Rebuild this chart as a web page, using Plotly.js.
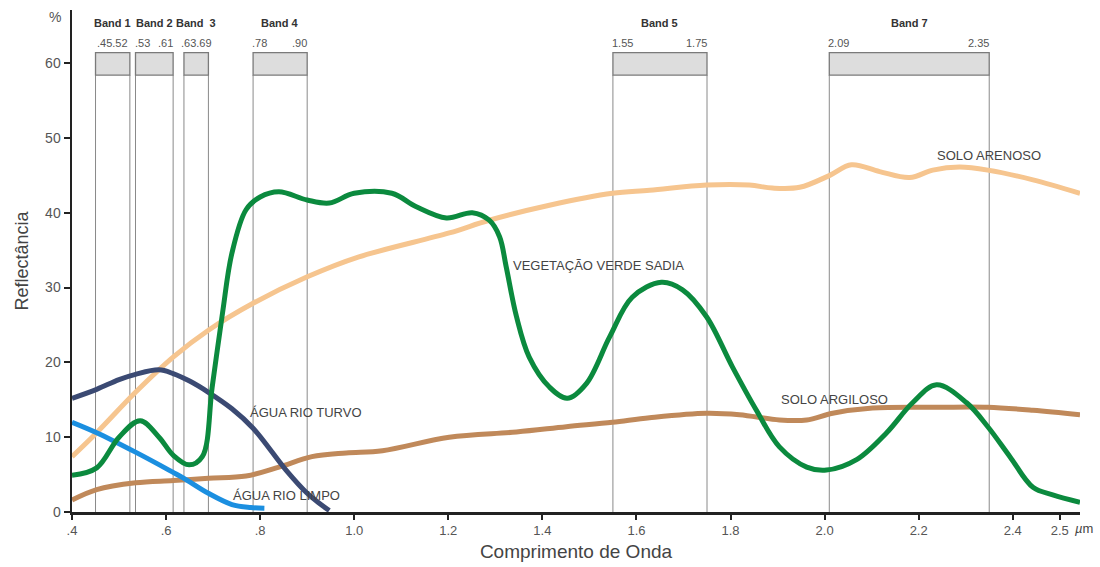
<!DOCTYPE html>
<html>
<head>
<meta charset="utf-8">
<script src="https://cdn.plot.ly/plotly-3.0.1.min.js"></script>
<style>html,body{margin:0;padding:0;background:#fff;}#chart{width:1100px;height:567px;}</style>
</head>
<body>
<div id="chart"></div>
<script>
// ---- Series data (wavelength µm, reflectance %) ----
const turvoX = [0.40, 0.4525, 0.50, 0.535, 0.585, 0.615, 0.65, 0.69, 0.74, 0.785, 0.855, 0.90, 0.925, 0.947];
const turvoY = [15.2, 16.4, 17.7, 18.4, 19.0, 18.5, 17.5, 16.0, 13.8, 11.2, 5.6, 2.5, 1.2, 0.2];

const limpoX = [0.40, 0.4525, 0.535, 0.615, 0.638, 0.69, 0.74, 0.78, 0.809];
const limpoY = [12.0, 10.6, 8.0, 5.3, 4.5, 2.5, 1.0, 0.6, 0.5];

const vegX = [0.40, 0.4525, 0.50, 0.545, 0.585, 0.615, 0.649, 0.677, 0.698, 0.72, 0.74, 0.77, 0.80, 0.84, 0.90, 0.947, 1.00, 1.08, 1.132, 1.196, 1.251, 1.287, 1.309, 1.323, 1.345, 1.372, 1.415, 1.453, 1.494, 1.543, 1.591, 1.653, 1.698, 1.749, 1.804, 1.855, 1.904, 1.962, 2.004, 2.068, 2.132, 2.187, 2.238, 2.302, 2.347, 2.394, 2.443, 2.485, 2.543];
const vegY = [4.9, 5.9, 10.0, 12.2, 10.0, 7.6, 6.3, 7.4, 16.7, 26.6, 34.6, 40.4, 42.1, 42.8, 41.7, 41.3, 42.6, 42.6, 40.8, 39.3, 40.0, 39.0, 36.8, 32.8, 26.1, 20.7, 16.7, 15.2, 17.2, 23.4, 28.7, 30.7, 29.7, 26.1, 19.4, 13.6, 8.7, 6.0, 5.6, 7.0, 10.6, 14.6, 17.0, 14.6, 11.4, 7.4, 3.3, 2.3, 1.3];

const arenosoX = [0.40, 0.4525, 0.535, 0.615, 0.69, 0.785, 0.899, 1.01, 1.202, 1.287, 1.415, 1.549, 1.628, 1.749, 1.84, 1.889, 1.947, 2.011, 2.057, 2.117, 2.181, 2.23, 2.287, 2.347, 2.443, 2.543];
const arenosoY = [7.4, 10.6, 16.0, 20.7, 24.3, 27.9, 31.4, 34.1, 37.3, 39.0, 41.0, 42.6, 43.0, 43.7, 43.7, 43.3, 43.4, 45.0, 46.4, 45.5, 44.7, 45.7, 46.1, 45.7, 44.4, 42.6];

const argilosoX = [0.40, 0.4525, 0.535, 0.615, 0.69, 0.77, 0.84, 0.91, 0.983, 1.06, 1.202, 1.345, 1.451, 1.549, 1.628, 1.749, 1.819, 1.904, 1.962, 2.017, 2.102, 2.245, 2.347, 2.443, 2.543];
const argilosoY = [1.6, 3.0, 3.9, 4.2, 4.5, 4.8, 6.0, 7.4, 7.9, 8.2, 10.0, 10.7, 11.4, 12.0, 12.6, 13.2, 13.0, 12.3, 12.3, 13.2, 13.9, 14.0, 14.0, 13.6, 13.0];

const seriesNames = ["SOLO ARENOSO", "SOLO ARGILOSO", "ÁGUA RIO TURVO", "ÁGUA RIO LIMPO", "VEGETAÇÃO VERDE SADIA"];

// ---- Bands (drawn edges in µm) ----
const bandNames = ["Band 1", "Band 2", "Band  3", "Band 4", "Band 5", "Band 7"];
const bandStart = [0.45, 0.535, 0.638, 0.785, 1.55, 2.01];
const bandEnd   = [0.523, 0.615, 0.69, 0.90, 1.75, 2.35];
const bandLeftText  = [".45.52", ".53", ".63.69", ".78", "1.55", "2.09"];
const bandRightText = ["", ".61", "", ".90", "1.75", "2.35"];

// ---- Axis ticks ----
const xTickVals = [0.4, 0.6, 0.8, 1.0, 1.2, 1.4, 1.6, 1.8, 2.0, 2.2, 2.4, 2.5];
const xTickText = [".4", ".6", ".8", "1.0", "1.2", "1.4", "1.6", "1.8", "2.0", "2.2", "2.4", "2.5"];
const yTickVals = [0, 10, 20, 30, 40, 50, 60];

const FONT = "Liberation Sans, Arial, sans-serif";
const boxBottom = 58.4, boxTop = 61.4;

function line(x, y, color, name) {
  return {x: x, y: y, type: "scatter", mode: "lines", name: name,
    line: {color: color, width: 5, shape: "spline", smoothing: 1}, hoverinfo: "skip", cliponaxis: true};
}
const traces = [
  line(arenosoX, arenosoY, "#f6c58f", seriesNames[0]),
  line(argilosoX, argilosoY, "#c0895a", seriesNames[1]),
  line(turvoX, turvoY, "#3b4a73", seriesNames[2]),
  line(limpoX, limpoY, "#1b8fe0", seriesNames[3]),
  line(vegX, vegY, "#0b8a3e", seriesNames[4])
];

const shapes = [];
const annotations = [];
for (let i = 0; i < bandNames.length; i++) {
  const a = bandStart[i], b = bandEnd[i];
  shapes.push({type: "line", xref: "x", yref: "y", x0: a, x1: a, y0: 0, y1: boxBottom, line: {color: "#8a8a8a", width: 1}, layer: "below"});
  shapes.push({type: "line", xref: "x", yref: "y", x0: b, x1: b, y0: 0, y1: boxBottom, line: {color: "#8a8a8a", width: 1}, layer: "below"});
  shapes.push({type: "rect", xref: "x", yref: "y", x0: a, x1: b, y0: boxBottom, y1: boxTop, fillcolor: "#dddddd", line: {color: "#7a7a7a", width: 1.3}, layer: "below"});
  annotations.push({xref: "x", yref: "y", x: (a + b) / 2, y: 65.4, text: "<b>" + bandNames[i].replace("  ", "&nbsp; ") + "</b>", showarrow: false, font: {family: FONT, size: 11, color: "#333"}, xanchor: "center", yanchor: "middle"});
  if (bandRightText[i] === "") {
    annotations.push({xref: "x", yref: "y", x: (a + b) / 2, y: 62.7, text: bandLeftText[i], showarrow: false, font: {family: FONT, size: 11, color: "#555"}, xanchor: "center", yanchor: "middle"});
  } else {
    annotations.push({xref: "x", yref: "y", x: a, y: 62.7, text: bandLeftText[i], showarrow: false, font: {family: FONT, size: 11, color: "#555"}, xanchor: "left", yanchor: "middle", xshift: -3});
    annotations.push({xref: "x", yref: "y", x: b, y: 62.7, text: bandRightText[i], showarrow: false, font: {family: FONT, size: 11, color: "#555"}, xanchor: "right", yanchor: "middle", xshift: 2});
  }
}

// curve labels
const labelX = [2.234, 1.904, 0.774, 0.738, 1.334];
const labelY = [47.6, 15.0, 13.3, 2.2, 32.9];
for (let i = 0; i < seriesNames.length; i++) {
  annotations.push({xref: "x", yref: "y", x: labelX[i], y: labelY[i], text: seriesNames[i], showarrow: false, font: {family: FONT, size: 13, color: "#444"}, xanchor: "left", yanchor: "middle"});
}
annotations.push({xref: "x", yref: "y", x: 0.4, y: 66.1, xshift: -9, text: "%", showarrow: false, font: {family: FONT, size: 14, color: "#555"}, xanchor: "right", yanchor: "middle"});
annotations.push({xref: "x", yref: "paper", x: 2.528, y: 0, yshift: -7, text: "<i>µ</i>m", showarrow: false, font: {family: FONT, size: 13, color: "#444"}, xanchor: "left", yanchor: "top"});

const layout = {
  width: 1100, height: 567,
  margin: {l: 72, r: 20, t: 10, b: 55},
  paper_bgcolor: "#ffffff", plot_bgcolor: "#ffffff",
  showlegend: false,
  font: {family: FONT, color: "#555"},
  xaxis: {
    range: [0.4, 2.543], showgrid: false, zeroline: false,
    showline: true, linecolor: "#222", linewidth: 2.5,
    ticks: "outside", ticklen: 5, tickwidth: 2, tickcolor: "#222",
    tickvals: xTickVals, ticktext: xTickText,
    tickfont: {family: FONT, size: 13, color: "#555"},
    title: {text: "Comprimento de Onda", font: {family: FONT, size: 19, color: "#444"}, standoff: 8}
  },
  yaxis: {
    range: [0, 67.1], showgrid: false, zeroline: false,
    showline: true, linecolor: "#222", linewidth: 2.5,
    ticks: "outside", ticklen: 6, tickwidth: 2, tickcolor: "#222",
    tickvals: yTickVals,
    tickfont: {family: FONT, size: 14, color: "#555"},
    title: {text: "Reflectância", font: {family: FONT, size: 18, color: "#444"}, standoff: 12}
  },
  shapes: shapes,
  annotations: annotations
};

Plotly.newPlot("chart", traces, layout, {displayModeBar: false, staticPlot: true});
</script>
</body>
</html>
